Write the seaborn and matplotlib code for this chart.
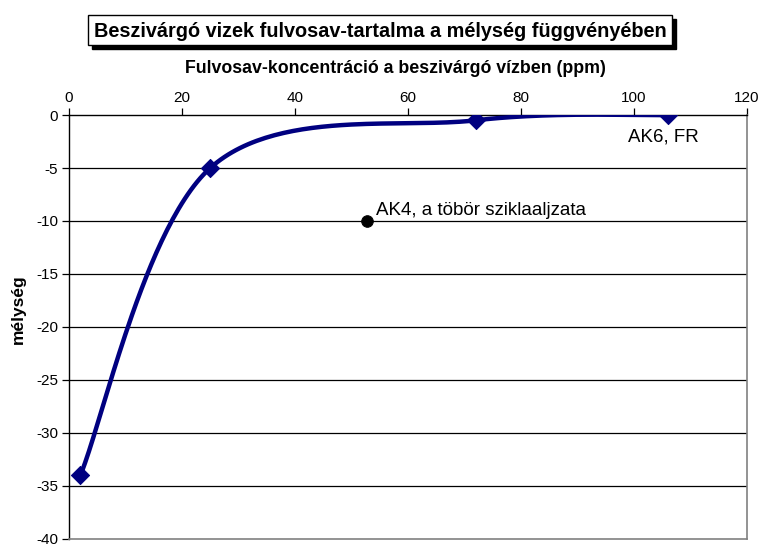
"""Fulvic acid concentration of seeping water versus depth (Excel-style chart)."""

import matplotlib

matplotlib.use("Agg")
import matplotlib.pyplot as plt
import numpy as np
import pandas as pd
import seaborn as sns
from matplotlib.patches import Rectangle

# data
conc = [2, 25, 72, 106]
depth = [-34, -5, -0.5, 0]
ak4_conc = [52.7]
ak4_depth = [-10]

x_ticks = [0, 20, 40, 60, 80, 100, 120]
y_ticks = [0, -5, -10, -15, -20, -25, -30, -35, -40]

NAVY = "#000080"
FONT = ["Liberation Sans", "DejaVu Sans"]


def excel_smooth(xs, ys, n=60):
    """Bezier smoothing like Excel's 'smoothed line' option."""
    pts = np.column_stack([xs, ys]).astype(float)
    padded = np.vstack([pts[0], pts, pts[-1]])
    out = []
    t = np.linspace(0, 1, n)[:, None]
    for i in range(len(pts) - 1):
        p0, p1 = padded[i + 1], padded[i + 2]
        c1 = p0 + (padded[i + 2] - padded[i]) / 6
        c2 = p1 - (padded[i + 3] - padded[i + 1]) / 6
        seg = ((1 - t) ** 3) * p0 + 3 * ((1 - t) ** 2) * t * c1 \
            + 3 * (1 - t) * t ** 2 * c2 + t ** 3 * p1
        out.append(seg if i == 0 else seg[1:])
    return np.vstack(out)


sns.set_style("white")
plt.rcParams["font.family"] = FONT
plt.rcParams["text.color"] = "black"
plt.rcParams["axes.labelcolor"] = "black"
plt.rcParams["xtick.color"] = "black"
plt.rcParams["ytick.color"] = "black"

fig = plt.figure(figsize=(7.64, 5.44), dpi=100)
ax = fig.add_axes([0.0903, 0.0092, 0.8874, 0.7794])

smooth = excel_smooth(conc, depth)
curve = pd.DataFrame({"x": smooth[:, 0], "y": smooth[:, 1]})
pts = pd.DataFrame({"x": conc, "y": depth})
ak4 = pd.DataFrame({"x": ak4_conc, "y": ak4_depth})

for yt in y_ticks[1:-1]:
    ax.axhline(yt, color="black", linewidth=0.9, zorder=1)

sns.lineplot(data=curve, x="x", y="y", sort=False, color=NAVY,
             linewidth=3.2, ax=ax, zorder=3)
sns.scatterplot(data=pts, x="x", y="y", marker="D", color=NAVY, s=85,
                edgecolor=NAVY, ax=ax, zorder=4)
sns.scatterplot(data=ak4, x="x", y="y", marker="o", color="black", s=70,
                edgecolor="black", ax=ax, zorder=4)

ax.text(ak4_conc[0] + 1.6, ak4_depth[0] + 0.15, "AK4, a töbör sziklaaljzata",
        fontsize=13.5, ha="left", va="bottom")
ax.text(98.9, -1.3, "AK6, FR", fontsize=13.5, ha="left", va="top")

ax.set_xlim(0, 120)
ax.set_ylim(-40, 0)
ax.set_xticks(x_ticks)
ax.set_yticks(y_ticks)
ax.set_yticklabels([str(v) for v in y_ticks])
ax.xaxis.tick_top()
ax.xaxis.set_label_position("top")
ax.tick_params(axis="x", direction="out", length=5, width=0.9,
               labelsize=11, pad=2, top=True, bottom=False)
ax.tick_params(axis="y", direction="out", length=5, width=0.9,
               labelsize=11, pad=3, left=True)

ax.set_xlabel("Fulvosav-koncentráció a beszivárgó vízben (ppm)",
              fontsize=12.8, fontweight="bold")
ax.xaxis.set_label_coords(0.482, 1.098)
ax.set_ylabel("mélység", fontsize=12.5, fontweight="bold")
ax.yaxis.set_label_coords(-0.063, 0.542)

for side in ["left", "top"]:
    ax.spines[side].set_color("black")
    ax.spines[side].set_linewidth(1.0)
for side in ["right", "bottom"]:
    ax.spines[side].set_color("#808080")
    ax.spines[side].set_linewidth(1.2)

# title in a box with drop shadow
bx, by, bw, bh = 88 / 764, 1 - 45 / 544, 584 / 764, 30 / 544
fig.patches.append(Rectangle((bx + 4 / 764, by - 4 / 544), bw, bh,
                             transform=fig.transFigure, facecolor="black",
                             edgecolor="black", zorder=1))
fig.patches.append(Rectangle((bx, by), bw, bh, transform=fig.transFigure,
                             facecolor="white", edgecolor="black",
                             linewidth=1.0, zorder=2))
fig.text(bx + bw / 2, by + bh / 2 - 0.003,
         "Beszivárgó vizek fulvosav-tartalma a mélység függvényében",
         fontsize=14.3, fontweight="bold", ha="center", va="center", zorder=3)

fig.savefig("out.png", dpi=100)
